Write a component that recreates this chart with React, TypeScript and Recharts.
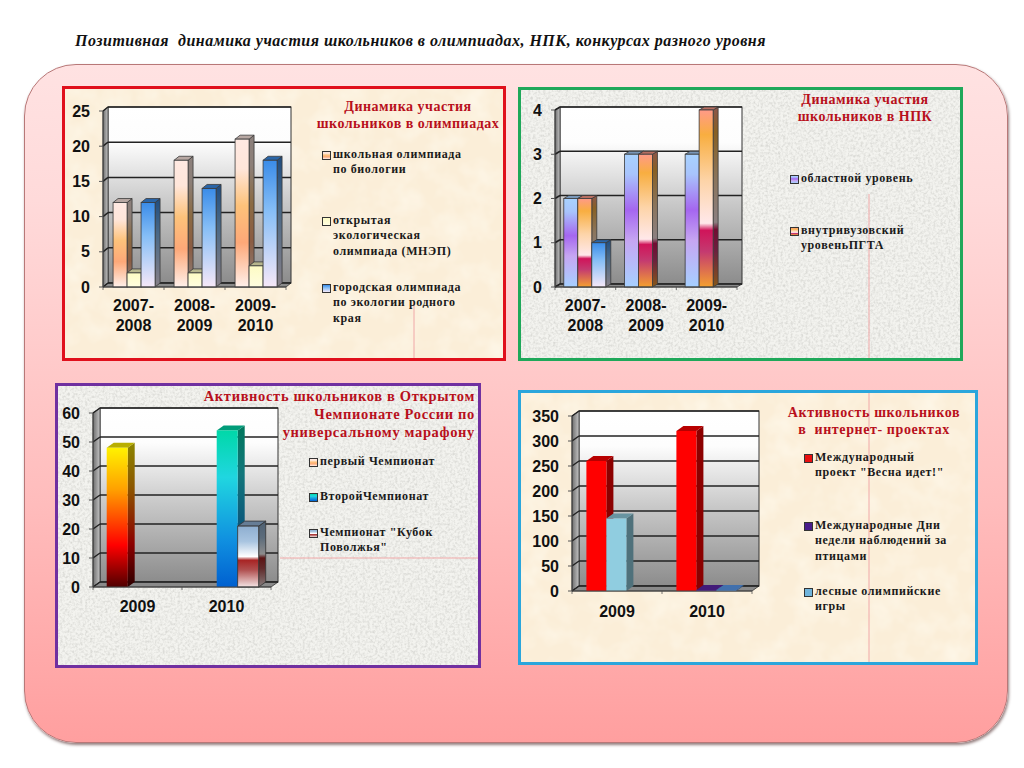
import React from 'react';
import { Bar, BarChart, CartesianGrid, XAxis, YAxis } from 'recharts';

// ---- data ----
const pageTitle = 'Позитивная  динамика участия школьников в олимпиадах, НПК, конкурсах разного уровня';

const olympYears = ['2007-2008', '2008-2009', '2009-2010'];
const olympSchool = [12, 18, 21];
const olympOpen = [2, 2, 3];
const olympCity = [12, 14, 18];
const olympTicks = [0, 5, 10, 15, 20, 25];
const olympTitle = ['Динамика участия', 'школьников в олимпиадах'];
const olympLegend = [
  ['школьная олимпиада', 'по биологии'],
  ['открытая', 'экологическая', 'олимпиада (МНЭП)'],
  ['городская олимпиада', 'по экологии родного', 'края'],
];

const npkYears = ['2007-2008', '2008-2009', '2009-2010'];
const npkRegional = [2, 3, 3];
const npkUniversity = [2, 3, 4];
const npkThird = [1, 0, 0];
const npkTicks = [0, 1, 2, 3, 4];
const npkTitle = ['Динамика участия', 'школьников в НПК'];
const npkLegend = [['областной уровень'], ['внутривузовский', 'уровеньПГТА']];

const marathonYears = ['2009', '2010'];
const marathonFirst = [48, 0];
const marathonSecond = [0, 54];
const marathonCup = [0, 21];
const marathonTicks = [0, 10, 20, 30, 40, 50, 60];
const marathonTitle = ['Активность школьников в Открытом', 'Чемпионате России по', 'универсальному марафону'];
const marathonLegend = [['первый Чемпионат'], ['ВторойЧемпионат'], ['Чемпионат "Кубок', 'Поволжья"']];

const webYears = ['2009', '2010'];
const webSpring = [260, 320];
const webForest = [145, 0];
const webBirds = [0, 2];
const webForestLate = [0, 2];
const webTicks = [0, 50, 100, 150, 200, 250, 300, 350];
const webTitle = ['Активность школьников', 'в  интернет- проектах'];
const webLegend = [
  ['Международный', 'проект "Весна идет!"'],
  ['Международные Дни', 'недели наблюдений за', 'птицами'],
  ['лесные олимпийские', 'игры'],
];

// ---- colours ----
type Stop = [number, string];

const peach: Stop[] = [[0, '#ffe9e2'], [0.2, '#ffe6da'], [0.45, '#fdc27a'], [0.7, '#fda878'], [1, '#fff0ea']];
const cream: Stop[] = [[0, '#fdfbc4'], [1, '#fffde0']];
const sky: Stop[] = [[0, '#3a8ce8'], [0.4, '#86bef6'], [1, '#f6e8f8']];
const violet: Stop[] = [[0, '#a8d2ff'], [0.15, '#a8c4fc'], [0.42, '#a566f0'], [0.65, '#c6a6f2'], [1, '#a6d0ff']];
const sunset: Stop[] = [[0, '#ff9a88'], [0.14, '#f8ae40'], [0.4, '#fdd4a8'], [0.64, '#ffe8ea'], [0.68, '#d0145a'], [0.8, '#c43a70'], [1, '#f4a030']];
const fire: Stop[] = [[0, '#fff200'], [0.3, '#ffa000'], [0.7, '#ff0000'], [1, '#500000']];
const teal: Stop[] = [[0, '#00d8a8'], [0.3, '#20d6e0'], [0.7, '#1090e0'], [1, '#0060d0']];
const steel: Stop[] = [[0, '#8eaed0'], [0.25, '#a8c4e0'], [0.5, '#ffffff'], [0.56, '#a82424'], [0.72, '#b05050'], [1, '#f4e4e4']];
const flat = (c: string): Stop[] => [[0, c], [1, c]];

const shade = (hex: string, k: number) => {
  const n = parseInt(hex.slice(1), 16);
  const ch = (v: number) => Math.round(v * k).toString(16).padStart(2, '0');
  return `#${ch((n >> 16) & 255)}${ch((n >> 8) & 255)}${ch(n & 255)}`;
};

const cssGradient = (stops: Stop[]) =>
  `linear-gradient(${stops.map(([o, c]) => `${c} ${o * 100}%`).join(', ')})`;

const serif = '"Liberation Serif", serif';
const sans = '"Liberation Sans", sans-serif';

// ---- 3d bar drawn from the rectangle the library computes ----
const Bar3D = (props: any) => {
  const { x, y, width, height, id, dx, dy, stops, edge } = props;
  if (!height || height <= 0) return null;
  const r = x + width;
  const b = y + height;
  return (
    <g stroke={edge} strokeWidth={0.8}>
      <polygon points={`${r},${y} ${r + dx},${y - dy} ${r + dx},${b - dy} ${r},${b}`} fill={`url(#${id}-side)`} />
      <polygon points={`${x},${y} ${x + dx},${y - dy} ${r + dx},${y - dy} ${r},${y}`} fill={shade(stops[0][1], 0.72)} />
      <rect x={x} y={y} width={width} height={height} fill={`url(#${id}-front)`} />
    </g>
  );
};

// walls and floor behind the chart layer
const Walls = ({ left, top, w, h, dx, dy, bands, prefix, svgW, svgH }: any) => {
  const right = left + w;
  const bottom = top + h;
  const step = w / bands;
  return (
    <svg width={svgW} height={svgH} style={{ position: 'absolute', left: 0, top: 0 }}>
      <defs>
        <linearGradient id={`${prefix}-wall`} x1="0" y1="0" x2="0" y2="1">
          <stop offset="0" stopColor="#ffffff" />
          <stop offset="0.2" stopColor="#fdfdfd" />
          <stop offset="0.55" stopColor="#c8c8c8" />
          <stop offset="1" stopColor="#8c8c8c" />
        </linearGradient>
        <linearGradient id={`${prefix}-left`} x1="0" y1="0" x2="1" y2="0">
          <stop offset="0" stopColor="#6e6e6e" />
          <stop offset="1" stopColor="#c4c4c4" />
        </linearGradient>
      </defs>
      <rect x={left + dx} y={top - dy} width={w} height={h} fill={`url(#${prefix}-wall)`} stroke="#333" strokeWidth={1} />
      <polygon
        points={`${left},${top} ${left + dx},${top - dy} ${left + dx},${bottom - dy} ${left},${bottom}`}
        fill={`url(#${prefix}-left)`}
        stroke="#333"
        strokeWidth={0.8}
      />
      <polygon
        points={`${left},${bottom} ${left + dx},${bottom - dy} ${right + dx},${bottom - dy} ${right},${bottom}`}
        fill="#8a8a8a"
        stroke="#333"
        strokeWidth={0.8}
      />
      {Array.from({ length: bands + 1 }, (_, i) => (
        <line key={i} x1={left + i * step} x2={left + i * step} y1={bottom} y2={bottom + 3} stroke="#555" strokeWidth={0.8} />
      ))}
    </svg>
  );
};

const YearTick = ({ x, y, payload, fontSize, labelDy }: any) => {
  const lines: string[] = String(payload.value).split(/(?<=-)/);
  return (
    <text x={x} y={y + labelDy} textAnchor="middle" fontFamily={sans} fontSize={fontSize} fontWeight={700} fill="#111">
      {lines.map((l, i) => (
        <tspan key={i} x={x} dy={i === 0 ? 0 : 20}>
          {l}
        </tspan>
      ))}
    </text>
  );
};

type Series = { key: string; values: number[]; stops: Stop[]; stackId?: string; edge?: string };

const Chart3D = ({ name, left, top, w, h, dx, dy, years, ticks, series, gap, edge, labelDy = 24 }: any) => {
  const marginLeft = 46;
  const marginTop = 16;
  const marginRight = 16;
  const axisHeight = 50;
  const chartW = marginLeft + w + marginRight;
  const chartH = marginTop + h + axisHeight;
  const data = years.map((year: string, i: number) => {
    const row: any = { year };
    (series as Series[]).forEach((s) => (row[s.key] = s.values[i]));
    return row;
  });
  return (
    <div style={{ position: 'absolute', left: left - marginLeft, top: top - marginTop, width: chartW, height: chartH }}>
      <Walls left={marginLeft} top={marginTop} w={w} h={h} dx={dx} dy={dy} bands={years.length} prefix={name} svgW={chartW} svgH={chartH} />
      <BarChart
        width={chartW}
        height={chartH}
        data={data}
        margin={{ top: marginTop, right: marginRight, left: 0, bottom: 0 }}
        barCategoryGap={gap}
        barGap={0}
      >
        <defs>
          {(series as Series[]).map((s) => (
            <React.Fragment key={s.key}>
              <linearGradient id={`${name}-${s.key}-front`} x1="0" y1="0" x2="0" y2="1">
                {s.stops.map(([o, c]) => (
                  <stop key={o} offset={o} stopColor={c} />
                ))}
              </linearGradient>
              <linearGradient id={`${name}-${s.key}-side`} x1="0" y1="0" x2="0" y2="1">
                {s.stops.map(([o, c]) => (
                  <stop key={o} offset={o} stopColor={shade(c, 0.55)} />
                ))}
              </linearGradient>
            </React.Fragment>
          ))}
        </defs>
        <CartesianGrid
          vertical={false}
          horizontal={(p: any) => (
            <g key={p.key ?? p.y1} stroke="#222" strokeWidth={1.5}>
              <line x1={p.x1 + dx} x2={p.x2 + dx} y1={p.y1 - dy} y2={p.y2 - dy} />
              <line x1={p.x1} x2={p.x1 + dx} y1={p.y1} y2={p.y1 - dy} />
            </g>
          )}
        />
        <XAxis
          dataKey="year"
          interval={0}
          axisLine={{ stroke: '#444' }}
          tickLine={false}
          tickMargin={0}
          tickSize={0}
          height={axisHeight}
          tick={<YearTick fontSize={16} labelDy={labelDy} />}
        />
        <YAxis
          width={marginLeft}
          domain={[0, ticks[ticks.length - 1]]}
          ticks={ticks}
          interval={0}
          axisLine={{ stroke: '#444' }}
          tickLine={{ stroke: '#555' }}
          tickSize={4}
          tickMargin={9}
          tick={{ fontFamily: sans, fontSize: 16, fontWeight: 700, fill: '#111' }}
        />
        {(series as Series[]).map((s) => (
          <Bar
            key={s.key}
            dataKey={s.key}
            stackId={s.stackId}
            isAnimationActive={false}
            shape={(p: any) => <Bar3D {...p} id={`${name}-${s.key}`} dx={dx} dy={dy} stops={s.stops} edge={s.edge ?? edge} />}
          />
        ))}
      </BarChart>
    </div>
  );
};

const Panel = ({ left, top, right, bottom, color, texture, faint }: any) => (
  <div
    style={{
      position: 'absolute',
      left,
      top,
      width: right - left,
      height: bottom - top,
      border: `3px solid ${color}`,
      boxSizing: 'border-box',
      overflow: 'hidden',
    }}
  >
    <svg width={right - left} height={bottom - top} style={{ display: 'block' }}>
      <rect width="100%" height="100%" fill={texture === 'granite' ? '#f3f3ef' : '#fbeed8'} />
      <rect width="100%" height="100%" filter={`url(#${texture})`} />
      {faint && <line {...faint} stroke="#f0a8a8" strokeWidth={1} />}
    </svg>
  </div>
);

const Lines = ({ lines, x, y, lh, align, color, size, spacing, width }: any) => (
  <div
    style={{
      position: 'absolute',
      left: x,
      top: y,
      width,
      textAlign: align,
      fontFamily: serif,
      fontWeight: 700,
      fontSize: size,
      lineHeight: `${lh}px`,
      letterSpacing: spacing,
      color,
      whiteSpace: 'pre',
    }}
  >
    {lines.map((l: string, i: number) => (
      <div key={i}>{l}</div>
    ))}
  </div>
);

const Legend3D = ({ items, swatches, x, tops, lh }: any) => (
  <>
    {items.map((lines: string[], i: number) => (
      <React.Fragment key={i}>
        <div
          style={{
            position: 'absolute',
            left: x - 11,
            top: tops[i] - 3 + lh / 2 - 4,
            width: 7,
            height: 7,
            background: cssGradient(swatches[i]),
            border: '1px solid #333',
            boxSizing: 'content-box',
          }}
        />
        <Lines lines={lines} x={x} y={tops[i] - 3} lh={lh} color="#1a1a1a" size={12} spacing="0.6px" />
      </React.Fragment>
    ))}
  </>
);

export default function App() {
  return (
    <div style={{ position: 'fixed', left: 0, top: 0, width: 1024, height: 768, background: '#fff', overflow: 'hidden' }}>
      <svg width={0} height={0} style={{ position: 'absolute' }}>
        <filter id="granite" x="0" y="0" width="100%" height="100%">
          <feTurbulence type="fractalNoise" baseFrequency="0.4" numOctaves="3" seed="4" />
          <feColorMatrix values="0 0 0 0 0.6  0 0 0 0 0.6  0 0 0 0 0.57  1.4 0 0 0 -0.55" />
        </filter>
        <filter id="paper" x="0" y="0" width="100%" height="100%">
          <feTurbulence type="fractalNoise" baseFrequency="0.04" numOctaves="3" seed="7" />
          <feColorMatrix values="0 0 0 0 1  0 0 0 0 0.97  0 0 0 0 0.88  1.1 0 0 0 -0.42" />
        </filter>
      </svg>

      <div
        style={{
          position: 'absolute',
          left: 75,
          top: 32,
          fontFamily: serif,
          fontStyle: 'italic',
          fontWeight: 700,
          fontSize: 16,
          lineHeight: '18px',
          letterSpacing: '0.5px',
          color: '#111',
          whiteSpace: 'pre',
        }}
      >
        {pageTitle}
      </div>

      <div
        style={{
          position: 'absolute',
          left: 24,
          top: 64,
          width: 984,
          height: 679,
          borderRadius: 52,
          background: 'linear-gradient(#ffe2e2, #ffdada 20%, #ffbcbc 65%, #ff9f9f)',
          border: '1px solid #b87878',
          boxSizing: 'border-box',
          boxShadow: '1px 2px 3px rgba(60,20,20,0.55)',
        }}
      />

      <Panel left={62} top={86} right={506} bottom={361} color="#e0101c" texture="paper" faint={{ x1: 349, x2: 349, y1: 215, y2: 275 }} />
      <Panel left={518} top={87} right={963} bottom={361} color="#1fa85a" texture="granite" faint={{ x1: 348, x2: 348, y1: 104, y2: 274 }} />
      <Panel left={55} top={383} right={481} bottom={668} color="#7030a0" texture="granite" faint={{ x1: 222, x2: 425, y1: 172, y2: 172 }} />
      <Panel left={518} top={390} right={978} bottom={665} color="#2ba6dc" texture="paper" faint={{ x1: 348, x2: 348, y1: 0, y2: 275 }} />

      <Chart3D
        name="olymp"
        left={103}
        top={111}
        w={183}
        h={176}
        dx={5}
        dy={4}
        gap="16.5%"
        edge="#3a3a3a"
        years={olympYears}
        ticks={olympTicks}
        series={[
          { key: 'school', values: olympSchool, stops: peach },
          { key: 'open', values: olympOpen, stops: cream },
          { key: 'city', values: olympCity, stops: sky },
        ]}
      />
      <Chart3D
        name="npk"
        left={555}
        top={110}
        w={182}
        h={177}
        dx={5}
        dy={3}
        gap="14.5%"
        edge="#3a3a3a"
        years={npkYears}
        ticks={npkTicks}
        series={[
          { key: 'regional', values: npkRegional, stops: violet },
          { key: 'university', values: npkUniversity, stops: sunset },
          { key: 'third', values: npkThird, stops: sky },
        ]}
      />
      <Chart3D
        name="marathon"
        left={93}
        top={413}
        w={178}
        h={174}
        dx={7}
        dy={5}
        gap="15.4%"
        edge="none"
        labelDy={25}
        years={marathonYears}
        ticks={marathonTicks}
        series={[
          { key: 'first', values: marathonFirst, stops: fire },
          { key: 'second', values: marathonSecond, stops: teal },
          { key: 'cup', values: marathonCup, stops: steel, edge: '#333333' },
        ]}
      />
      <Chart3D
        name="web"
        left={572}
        top={416}
        w={180}
        h={175}
        dx={7}
        dy={5}
        gap="16%"
        edge="none"
        labelDy={26}
        years={webYears}
        ticks={webTicks}
        series={[
          { key: 'spring', values: webSpring, stops: flat('#ff0000'), stackId: 'first' },
          { key: 'forest', values: webForest, stops: flat('#90cde0'), stackId: 'mid' },
          { key: 'birds', values: webBirds, stops: flat('#5c24a8'), stackId: 'mid' },
          { key: 'forestLate', values: webForestLate, stops: flat('#5a9cf0'), stackId: 'last' },
        ]}
      />

      <Lines lines={olympTitle} x={298} y={99} width={220} lh={16.5} align="center" color="#b8101c" size={14} spacing="0.5px" />
      <Lines lines={npkTitle} x={755} y={92} width={220} lh={16.5} align="center" color="#b8101c" size={14} spacing="0.5px" />
      <Lines lines={marathonTitle} x={175} y={387} width={300} lh={18} align="right" color="#b8101c" size={14.5} spacing="0.65px" />
      <Lines lines={webTitle} x={764} y={404} width={220} lh={17} align="center" color="#b8101c" size={14} spacing="0.6px" />

      <Legend3D items={olympLegend} swatches={[peach, cream, sky]} x={333} tops={[150, 216, 283]} lh={15.3} />
      <Legend3D items={npkLegend} swatches={[violet, sunset]} x={801} tops={[174, 226]} lh={15.3} />
      <Legend3D items={marathonLegend} swatches={[peach, teal, steel]} x={320} tops={[457, 492, 528]} lh={15.3} />
      <Legend3D items={webLegend} swatches={[flat('#e81010'), flat('#4a1c8c'), flat('#70b4dc')]} x={815} tops={[453, 521, 587]} lh={15.3} />
    </div>
  );
}
